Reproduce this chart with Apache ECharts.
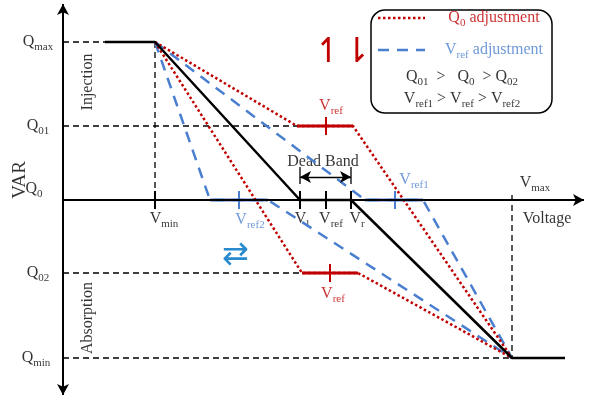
<!DOCTYPE html><html><head><meta charset="utf-8">
<script src="https://cdn.jsdelivr.net/npm/echarts@6/dist/echarts.min.js"></script>
<style>html,body{margin:0;background:#fff}#c{width:592px;height:401px}</style></head><body><div id="c"></div>
<script>
// Schematic coordinates (voltage units on x, VAR units on y, drawn on value axes)
const blackCurve = [[105,42],[155,42],[300,200],[351,200],[512,358],[565,358]];
const redUpper = [[155,42],[297,126],[353,126],[512,358]];
const redUpperFlat = [[297,126],[353,126]];
const redLower = [[155,42],[302,273],[358,273],[512,358]];
const redLowerFlat = [[302,273],[358,273]];
const blueSteep = [[155,42],[210,200],[268,200],[512,358]];
const blueSteepFlat = [[210,200],[268,200]];
const blueShallow = [[155,42],[365,200],[423,200],[512,358]];
const blueShallowFlat = [[365,200],[423,200]];
const guides = [
  [[63,42],[105,42]],[[155,42],[155,200]],[[63,126],[297,126]],
  [[63,273],[302,273]],[[63,358],[512,358]],[[512,195],[512,358]]];
const ticksBlack = [155,300,326,351];
const ticksRed = [[326,126],[330,273]];
const ticksBlue = [239,395];
const labels = [
  [38,42,'Q{s|max}','#000'],[38,126,'Q{s|01}','#000'],[34,189,'Q{s|0}','#000'],
  [38,273,'Q{s|02}','#000'],[36,358,'Q{s|min}','#000'],
  [164,219,'V{s|min}','#000'],[302,219,'V{s|l}','#000'],[331,219,'V{s|ref}','#000'],
  [357,219,'V{s|r}','#000'],[535,183,'V{s|max}','#000'],[547,219,'Voltage','#000'],
  [323,162,'Dead Band','#000'],
  [331,106,'V{s|ref}','#c00000'],[333,294,'V{s|ref}','#c00000'],
  [250,220,'V{s|ref2}','#4a7fd0'],[414,180,'V{s|ref1}','#4a7fd0'],
  [494,18,'Q{s|0} adjustment','#c00000'],[494,50,'V{s|ref} adjustment','#4a7fd0'],
  [462,77,'Q{s|01}  >   Q{s|0}  > Q{s|02}','#000'],[462,99,'V{s|ref1} > V{s|ref} > V{s|ref2}','#000']
];
const rotLabels = [[20,180,'VAR'],[88,82,'Injection'],[88,318,'Absorption']];

const font = 'Liberation Serif';
const BLK='#000', RED='#c00000', BLU='#4a7fd0';
function ln(data,color,type,width){return {type:'line',data,symbol:'none',silent:true,animation:false,
  lineStyle:{color,type,width}};}
const series=[];
guides.forEach(g=>series.push(ln(g,BLK,[6,4],1.3)));
series.push(ln(blueSteep,BLU,[11,8],2.5));
series.push(ln(blueShallow,BLU,[11,8],2.5));
series.push(ln(blueSteepFlat,BLU,'solid',3));
series.push(ln(blueShallowFlat,BLU,'solid',3));
series.push(ln(redUpper,RED,[2.5,2.5],2.5));
series.push(ln(redLower,RED,[2.5,2.5],2.5));
series.push(ln(redUpperFlat,RED,'solid',3));
series.push(ln(redLowerFlat,RED,'solid',3));
series.push(ln(blackCurve,BLK,'solid',2.5));
ticksBlack.forEach(x=>series.push(ln([[x,191],[x,209]],BLK,'solid',2)));
ticksBlue.forEach(x=>series.push(ln([[x,191],[x,209]],BLU,'solid',2)));
ticksRed.forEach(p=>series.push(ln([[p[0],p[1]-9],[p[0],p[1]+9]],RED,'solid',2)));
[300,351].forEach(x=>series.push(ln([[x,167],[x,184]],BLK,'solid',1.3)));
series.push(ln([[378,18],[425,18]],RED,[2.5,2.5],2.5));
series.push(ln([[378,50],[425,50]],BLU,[11,8],2.5));
function arrow(a,b,color,sym,w){return {type:'line',data:[],silent:true,animation:false,markLine:{silent:true,animation:false,symbol:sym,symbolSize:[9,11],
  lineStyle:{color,type:'solid',width:w},label:{show:false},data:[[{coord:a},{coord:b}]]}};}
series.push(arrow([63,395],[63,4],BLK,['arrow','arrow'],2));
series.push(arrow([63,200],[584,200],BLK,['none','arrow'],2));
series.push(arrow([300,177],[351,177],BLK,['arrow','arrow'],1.3));
series.push({type:'scatter',symbolSize:0,silent:true,animation:false,data:labels.map(l=>({value:[l[0],l[1]],
  label:{show:true,position:'inside',formatter:l[2],color:l[3],fontSize:16,fontFamily:font,
  rich:{s:{fontSize:11,padding:[10,0,0,0],fontFamily:font,color:l[3]}}}}))});
series.push({type:'scatter',symbolSize:0,silent:true,animation:false,data:rotLabels.map(l=>({value:[l[0],l[1]],
  label:{show:true,position:'inside',rotate:90,formatter:l[2],color:'#000',fontSize:l[2]==='VAR'?19:16,fontFamily:font}}))});
const chart=echarts.init(document.getElementById('c'));
chart.setOption({animation:false,
  grid:{left:0,top:0,width:592,height:401},
  xAxis:{type:'value',min:0,max:592,show:false},
  yAxis:{type:'value',min:0,max:401,inverse:true,show:false},
  graphic:[
    {type:'rect',shape:{x:371,y:10,width:181,height:103,r:14},style:{fill:'none',stroke:'#000',lineWidth:1.5}},
    {type:'text',x:314,y:36,style:{text:'↿⇂',fill:RED,fontSize:34,fontFamily:'DejaVu Sans'}},
    {type:'text',x:222,y:240,style:{text:'⇄',fill:'#2a8ad0',fontSize:32,fontFamily:'DejaVu Sans'}}
  ],
  series});
</script></body></html>
